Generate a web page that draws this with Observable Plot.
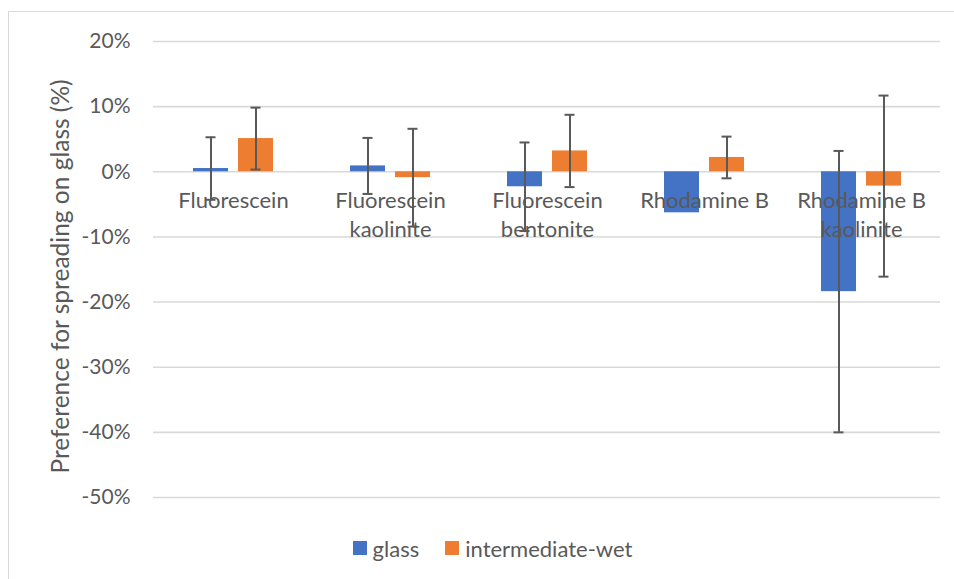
<!DOCTYPE html>
<html>
<head>
<meta charset="utf-8">
<script src="https://cdn.jsdelivr.net/npm/d3@7"></script>
<script src="https://cdn.jsdelivr.net/npm/@observablehq/plot@0.6"></script>
<style>
  html, body { margin: 0; padding: 0; background: white; }
  #wrap { position: relative; width: 954px; height: 579px; overflow: hidden; font-family: Lato, "Open Sans", sans-serif; color: #595959; }
  #border { position: absolute; left: 8px; top: 11px; width: 960px; height: 580px; border-left: 1px solid #D9D9D9; border-top: 1px solid #D9D9D9; pointer-events: none; }
  #legend { display: flex; justify-content: center; align-items: center; gap: 26px; height: 50px; padding-left: 31px; box-sizing: border-box; font-size: 22px; }
  .item { display: flex; align-items: center; gap: 6px; }
  .sw { width: 14px; height: 14px; display: inline-block; }
</style>
</head>
<body>
<div id="wrap">
  <div id="chart"></div>
  <div id="legend"></div>
  <div id="border"></div>
</div>
<script>
const categories = ["Fluorescein", "Fluorescein kaolinite", "Fluorescein bentonite", "Rhodamine B", "Rhodamine B kaolinite"];
const categoryLabels = ["Fluorescein", "Fluorescein\nkaolinite", "Fluorescein\nbentonite", "Rhodamine B", "Rhodamine B\nkaolinite"];
const seriesNames = ["glass", "intermediate-wet"];
const seriesColors = ["#4472C4", "#ED7D31"];
const glassValues = [0.005, 0.009, -0.023, -0.063, -0.184];
const glassErrors = [0.048, 0.043, 0.068, null, 0.216];
const wetValues = [0.051, -0.009, 0.032, 0.022, -0.022];
const wetErrors = [0.0475, 0.075, 0.0555, 0.032, 0.139];
const yTicks = [0.2, 0.1, 0, -0.1, -0.2, -0.3, -0.4, -0.5];
const yLabel = "Preference for spreading on glass (%)";

const glassRows = categories.map((c, i) => ({category: c, series: seriesNames[0], value: glassValues[i], err: glassErrors[i]}));
const wetRows = categories.map((c, i) => ({category: c, series: seriesNames[1], value: wetValues[i], err: wetErrors[i]}));
const labelRows = categories.map((c, i) => ({category: c, label: categoryLabels[i]}));
const withErr = rows => rows.filter(d => d.err != null);

const barInset = 45;   // each category band holds two bars side by side
const capInsetNear = 12.5, capInsetFar = 57.5;
const errStyle = {stroke: "#595959", strokeWidth: 2};
const pct = d => `${Math.round(d * 100)}%`;

const chart = Plot.plot({
  width: 954,
  height: 523,
  marginTop: 41,
  marginBottom: 26,
  marginLeft: 153,
  marginRight: 14,
  style: {fontFamily: "Lato, 'Open Sans', sans-serif", fontSize: "21px", color: "#595959", background: "white", overflow: "visible"},
  x: {domain: categories, paddingInner: 0.491, paddingOuter: 0.2455, axis: null},
  y: {domain: [-0.5, 0.2]},
  marks: [
    Plot.gridY(yTicks, {stroke: "#D9D9D9", strokeOpacity: 1, strokeWidth: 1.6}),
    Plot.axisY(yTicks, {tickSize: 0, tickPadding: 23, tickFormat: pct, label: null, fontSize: 21}),
    Plot.text([yLabel], {frameAnchor: "left", textAnchor: "middle", lineAnchor: "middle", rotate: -90, dx: -92, dy: 7, text: d => d, fontSize: 24.5, fill: "#595959"}),
    Plot.barY(glassRows, {x: "category", y: "value", fill: seriesColors[0], insetRight: barInset}),
    Plot.barY(wetRows, {x: "category", y: "value", fill: seriesColors[1], insetLeft: barInset}),
    Plot.ruleX(withErr(glassRows), {x: "category", y1: d => d.value - d.err, y2: d => d.value + d.err, dx: -22.5, ...errStyle}),
    Plot.ruleX(withErr(wetRows), {x: "category", y1: d => d.value - d.err, y2: d => d.value + d.err, dx: 22.5, ...errStyle}),
    Plot.tickY(withErr(glassRows), {x: "category", y: d => d.value + d.err, insetLeft: capInsetNear, insetRight: capInsetFar, ...errStyle}),
    Plot.tickY(withErr(glassRows), {x: "category", y: d => d.value - d.err, insetLeft: capInsetNear, insetRight: capInsetFar, ...errStyle}),
    Plot.tickY(withErr(wetRows), {x: "category", y: d => d.value + d.err, insetLeft: capInsetFar, insetRight: capInsetNear, ...errStyle}),
    Plot.tickY(withErr(wetRows), {x: "category", y: d => d.value - d.err, insetLeft: capInsetFar, insetRight: capInsetNear, ...errStyle}),
    Plot.text(labelRows, {x: "category", y: () => 0, text: "label", lineAnchor: "top", dy: 16, lineHeight: 1.3, fontSize: 22, fill: "#595959"})
  ]
});
document.getElementById("chart").append(chart);

const legend = document.getElementById("legend");
seriesNames.forEach((name, i) => {
  const item = document.createElement("span");
  item.className = "item";
  const sw = document.createElement("span");
  sw.className = "sw";
  sw.style.background = seriesColors[i];
  const t = document.createElement("span");
  t.textContent = name;
  item.append(sw, t);
  legend.append(item);
});
</script>
</body>
</html>
